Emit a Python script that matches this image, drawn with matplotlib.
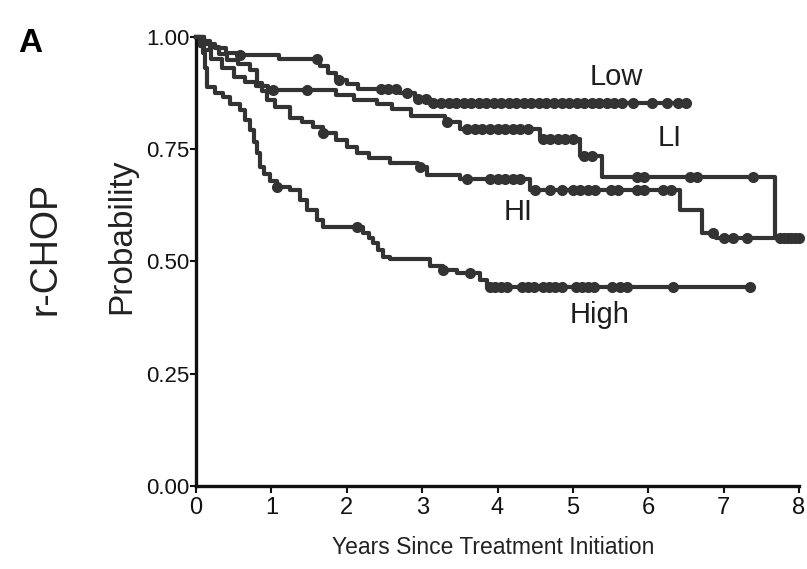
import matplotlib.pyplot as plt
import numpy as np

plt.rcParams['font.family'] = ['Liberation Sans', 'DejaVu Sans']

# Kaplan-Meier curves: time of each drop (years) and survival after it
low_t = [0, 0.1, 0.25, 0.4, 0.55, 1.1, 1.65, 1.75, 1.85, 2.0, 2.15, 2.7, 2.9, 3.1]
low_s = [1.0, 0.985, 0.975, 0.965, 0.96, 0.95, 0.935, 0.92, 0.905, 0.895, 0.885, 0.875, 0.862, 0.852]
low_end = 6.5
low_cens = [0.58, 1.6, 1.9, 2.45, 2.55, 2.65, 2.8, 2.95, 3.05, 3.15, 3.25, 3.35, 3.45, 3.55,
            3.65, 3.75, 3.85, 3.95, 4.05, 4.15, 4.25, 4.35, 4.45, 4.55, 4.65, 4.75, 4.85,
            4.95, 5.05, 5.15, 5.25, 5.35, 5.45, 5.55, 5.65, 5.8, 6.05, 6.25, 6.4, 6.5]

li_t = [0, 0.1, 0.2, 0.35, 0.5, 0.65, 0.8, 0.95, 1.85, 2.1, 2.4, 2.6, 2.85, 3.3, 3.5,
        4.56, 5.09, 5.38, 7.68]
li_s = [1.0, 0.97, 0.95, 0.93, 0.91, 0.9, 0.89, 0.882, 0.87, 0.86, 0.85, 0.84, 0.825,
        0.81, 0.795, 0.772, 0.735, 0.688, 0.552]
li_end = 8.0
li_cens = [1.02, 1.47, 3.33, 3.6, 3.7, 3.8, 3.9, 4.0, 4.1, 4.2, 4.3, 4.4, 4.6, 4.7, 4.8,
           4.9, 5.0, 5.15, 5.25, 5.85, 5.95, 6.55, 6.65, 7.39, 7.75, 7.85, 7.95, 8.0]

hi_t = [0, 0.1, 0.18, 0.3, 0.41, 0.55, 0.72, 0.81, 0.88, 0.94, 1.05, 1.25, 1.4, 1.55,
        1.68, 1.85, 2.0, 2.14, 2.3, 2.57, 2.95, 3.06, 3.5, 4.43, 6.42, 6.71, 6.9]
hi_s = [1.0, 0.99, 0.978, 0.962, 0.949, 0.94, 0.927, 0.898, 0.88, 0.86, 0.845, 0.82,
        0.81, 0.8, 0.786, 0.77, 0.755, 0.742, 0.73, 0.72, 0.71, 0.693, 0.683, 0.66,
        0.615, 0.563, 0.552]
hi_end = 8.0
hi_cens = [1.68, 2.97, 3.6, 3.9, 4.0, 4.1, 4.2, 4.3, 4.5, 4.7, 4.85, 5.0, 5.1, 5.2, 5.3,
           5.5, 5.6, 5.85, 5.95, 6.2, 6.3, 6.86, 7.0, 7.12, 7.31, 7.8, 7.9]

high_t = [0, 0.05, 0.09, 0.12, 0.15, 0.25, 0.36, 0.45, 0.58, 0.65, 0.72, 0.77, 0.81,
          0.85, 0.9, 0.98, 1.07, 1.25, 1.38, 1.47, 1.6, 1.68, 2.21, 2.3, 2.35, 2.42,
          2.48, 2.57, 3.1, 3.28, 3.46, 3.77, 3.86]
high_s = [1.0, 0.98, 0.964, 0.93, 0.889, 0.875, 0.866, 0.85, 0.837, 0.815, 0.793, 0.765,
          0.742, 0.71, 0.695, 0.68, 0.666, 0.659, 0.637, 0.615, 0.592, 0.577, 0.563,
          0.552, 0.541, 0.525, 0.51, 0.505, 0.49, 0.481, 0.474, 0.459, 0.443]
high_end = 7.35
high_cens = [1.07, 2.14, 3.28, 3.63, 3.9, 3.97, 4.05, 4.12, 4.32, 4.4, 4.48, 4.6, 4.68,
             4.76, 4.85, 5.04, 5.12, 5.2, 5.28, 5.52, 5.62, 5.72, 6.33, 7.35]

# group names and where they are written
group_names = ['Low', 'LI', 'HI', 'High']
label_x = [5.58, 6.29, 4.27, 5.36]
label_y = [0.91, 0.775, 0.61, 0.38]

x_ticks = [0, 1, 2, 3, 4, 5, 6, 7, 8]
y_ticks = [0.0, 0.25, 0.5, 0.75, 1.0]

LINE_COL = '#333333'


def draw_km(ax, t, s, end, cens):
    x = list(t) + [end]
    y = list(s) + [s[-1]]
    ax.step(x, y, where='post', color=LINE_COL, lw=3.0, clip_on=False, zorder=3)
    # censored patients as small dots on the curve
    idx = np.searchsorted(t, cens, side='right') - 1
    cy = np.array(s)[idx]
    ax.plot(cens, cy, 'o', color=LINE_COL, ms=8, mew=0, clip_on=False, zorder=4)


def main():
    fig = plt.figure(figsize=(8.07, 5.69), dpi=100)
    ax = fig.add_axes([0.243, 0.146, 0.747, 0.789])

    draw_km(ax, low_t, low_s, low_end, low_cens)
    draw_km(ax, li_t, li_s, li_end, li_cens)
    draw_km(ax, hi_t, hi_s, hi_end, hi_cens)
    draw_km(ax, high_t, high_s, high_end, high_cens)

    for name, lx, ly in zip(group_names, label_x, label_y):
        ax.text(lx, ly, name, fontsize=21, ha='center', va='center', color='#1e1e1e')

    ax.set_xlim(0, 8)
    ax.set_ylim(0, 1.0)
    ax.set_xticks(x_ticks)
    ax.set_yticks(y_ticks)
    ax.set_yticklabels(['%.2f' % v for v in y_ticks])
    ax.tick_params(axis='y', labelsize=16, length=4, width=1.5, pad=1, colors='#111111')
    ax.tick_params(axis='x', labelsize=17, length=5, width=1.5, pad=3, colors='#111111')

    for side in ['top', 'right']:
        ax.spines[side].set_visible(False)
    for side in ['left', 'bottom']:
        ax.spines[side].set_linewidth(2.4)
        ax.spines[side].set_color('#111111')

    ax.set_xlabel('Years Since Treatment Initiation', fontsize=16.5, va='center', color='#222222')
    ax.xaxis.set_label_coords(0.4925, -0.138)
    ax.set_ylabel('Probability', fontsize=24, rotation=90, ha='center', va='center', color='#222222')
    ax.yaxis.set_label_coords(-0.123, 0.557)

    fig.text(30 / 807, 1 - 44 / 569, 'A', fontsize=24, fontweight='bold', ha='center', va='center')
    fig.text(46 / 807, 1 - 248 / 569, 'r-CHOP', fontsize=27, rotation=90, ha='center', va='center',
             color='#222222')

    fig.savefig('out.png', dpi=100)


if __name__ == "__main__":
    main()
